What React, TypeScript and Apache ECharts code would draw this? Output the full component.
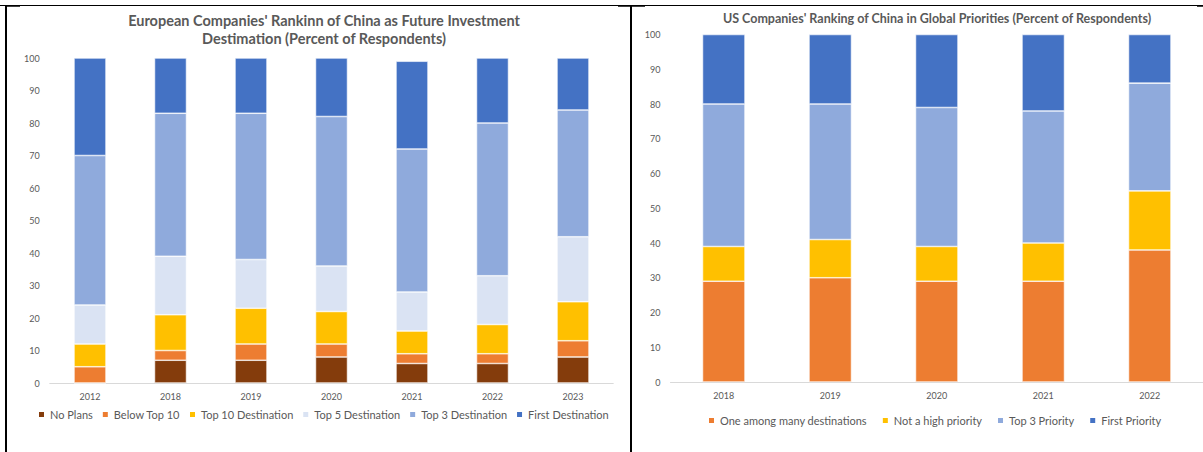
import React, { useEffect, useRef } from "react";
import * as echarts from "echarts";

const euYears = ["2012", "2018", "2019", "2020", "2021", "2022", "2023"];
const euNoPlans = [0, 7, 7, 8, 6, 6, 8];
const euBelowTop10 = [5, 3, 5, 4, 3, 3, 5];
const euTop10 = [7, 11, 11, 10, 7, 9, 12];
const euTop5 = [12, 18, 15, 14, 12, 15, 20];
const euTop3 = [46, 44, 45, 46, 44, 47, 39];
const euFirst = [30, 17, 17, 18, 27, 20, 16];

const usYears = ["2018", "2019", "2020", "2021", "2022"];
const usOneAmongMany = [29, 30, 29, 29, 38];
const usNotHigh = [10, 11, 10, 11, 17];
const usTop3 = [41, 39, 40, 38, 31];
const usFirst = [20, 20, 21, 22, 14];

const yTicks = { min: 0, max: 100, interval: 10 };

const FONT = "Lato, 'Liberation Sans', sans-serif";
const GREY = "#595959";

export default function App() {
  const ref = useRef<HTMLDivElement>(null);
  useEffect(() => {
    if (!ref.current) return;
    const chart = echarts.init(ref.current, undefined, { renderer: "svg" });
    const mk = (name: string, data: number[], color: string, idx: number, stack: string, barWidth: number) => ({
      name,
      type: "bar",
      stack,
      data,
      xAxisIndex: idx,
      yAxisIndex: idx,
      barWidth,
      itemStyle: { color, borderColor: "#ffffff", borderWidth: 0.6 },
    });
    const xAx = (idx: number, data: string[]) => ({
      type: "category",
      gridIndex: idx,
      data,
      axisTick: { show: false },
      axisLine: { lineStyle: { color: "#d9d9d9", width: 1 } },
      axisLabel: { fontSize: 9, color: GREY, fontFamily: FONT, margin: 9 },
    });
    const yAx = (idx: number) => ({
      type: "value",
      gridIndex: idx,
      min: yTicks.min,
      max: yTicks.max,
      interval: yTicks.interval,
      splitLine: { show: false },
      axisLine: { show: false },
      axisTick: { show: false },
      axisLabel: { fontSize: 9, color: GREY, fontFamily: FONT, margin: 10 },
    });
    const euNames = ["No Plans", "Below Top 10", "Top 10 Destination", "Top 5 Destination", "Top 3 Destination", "First Destination"];
    const usNames = ["One among many destinations", "Not a high priority", "Top 3 Priority", "First Priority"];
    chart.setOption({
      animation: false,
      backgroundColor: "#ffffff",
      title: [
        {
          text: "European Companies' Rankinn of China as Future Investment\nDestimation (Percent of Respondents)",
          left: 319,
          top: 6,
          textAlign: "center",
          textStyle: { fontSize: 14.5, fontWeight: "bold", color: GREY, fontFamily: FONT, lineHeight: 18 },
        },
        {
          text: "US Companies' Ranking of China in Global Priorities (Percent of Respondents)",
          left: 932,
          top: 7,
          textAlign: "center",
          textStyle: { fontSize: 12.5, fontWeight: "bold", color: GREY, fontFamily: FONT },
        },
      ],
      legend: [
        {
          data: euNames,
          left: 37,
          top: 409,
          padding: 0,
          itemWidth: 7,
          itemHeight: 7,
          itemGap: 8,
          icon: "rect",
          textStyle: { fontSize: 11, color: GREY, fontFamily: FONT },
        },
        {
          data: usNames,
          left: 707,
          top: 415,
          padding: 0,
          itemWidth: 7,
          itemHeight: 7,
          itemGap: 14,
          icon: "rect",
          textStyle: { fontSize: 11, color: GREY, fontFamily: FONT },
        },
      ],
      grid: [
        { left: 49.75, top: 58, width: 563.5, height: 325 },
        { left: 670.5, top: 34.5, width: 535, height: 347.5 },
      ],
      xAxis: [xAx(0, euYears), xAx(1, usYears)],
      yAxis: [yAx(0), yAx(1)],
      series: [
        mk(euNames[0], euNoPlans, "#843C0C", 0, "eu", 32),
        mk(euNames[1], euBelowTop10, "#ED7D31", 0, "eu", 32),
        mk(euNames[2], euTop10, "#FFC000", 0, "eu", 32),
        mk(euNames[3], euTop5, "#DAE3F3", 0, "eu", 32),
        mk(euNames[4], euTop3, "#8FAADC", 0, "eu", 32),
        mk(euNames[5], euFirst, "#4472C4", 0, "eu", 32),
        mk(usNames[0], usOneAmongMany, "#ED7D31", 1, "us", 42.5),
        mk(usNames[1], usNotHigh, "#FFC000", 1, "us", 42.5),
        mk(usNames[2], usTop3, "#8FAADC", 1, "us", 42.5),
        mk(usNames[3], usFirst, "#4472C4", 1, "us", 42.5),
      ],
      graphic: [
        { type: "line", shape: { x1: 0, y1: 5.5, x2: 1203, y2: 5.5 }, style: { stroke: "#000", lineWidth: 1.2 } },
        { type: "line", shape: { x1: 6, y1: 5, x2: 6, y2: 452 }, style: { stroke: "#000", lineWidth: 2 } },
        { type: "line", shape: { x1: 631, y1: 5, x2: 631, y2: 452 }, style: { stroke: "#000", lineWidth: 2 } },
        { type: "line", shape: { x1: 6, y1: 6, x2: 20, y2: 6 }, style: { stroke: "#000", lineWidth: 1.5 } },
        { type: "line", shape: { x1: 618, y1: 6, x2: 645, y2: 6 }, style: { stroke: "#000", lineWidth: 1.5 } },
        { type: "line", shape: { x1: 1197, y1: 6, x2: 1203, y2: 6 }, style: { stroke: "#000", lineWidth: 1.5 } },
      ],
    });
    return () => chart.dispose();
  }, []);
  return <div ref={ref} style={{ position: "fixed", left: 0, top: 0, width: 1203, height: 452 }} />;
}
